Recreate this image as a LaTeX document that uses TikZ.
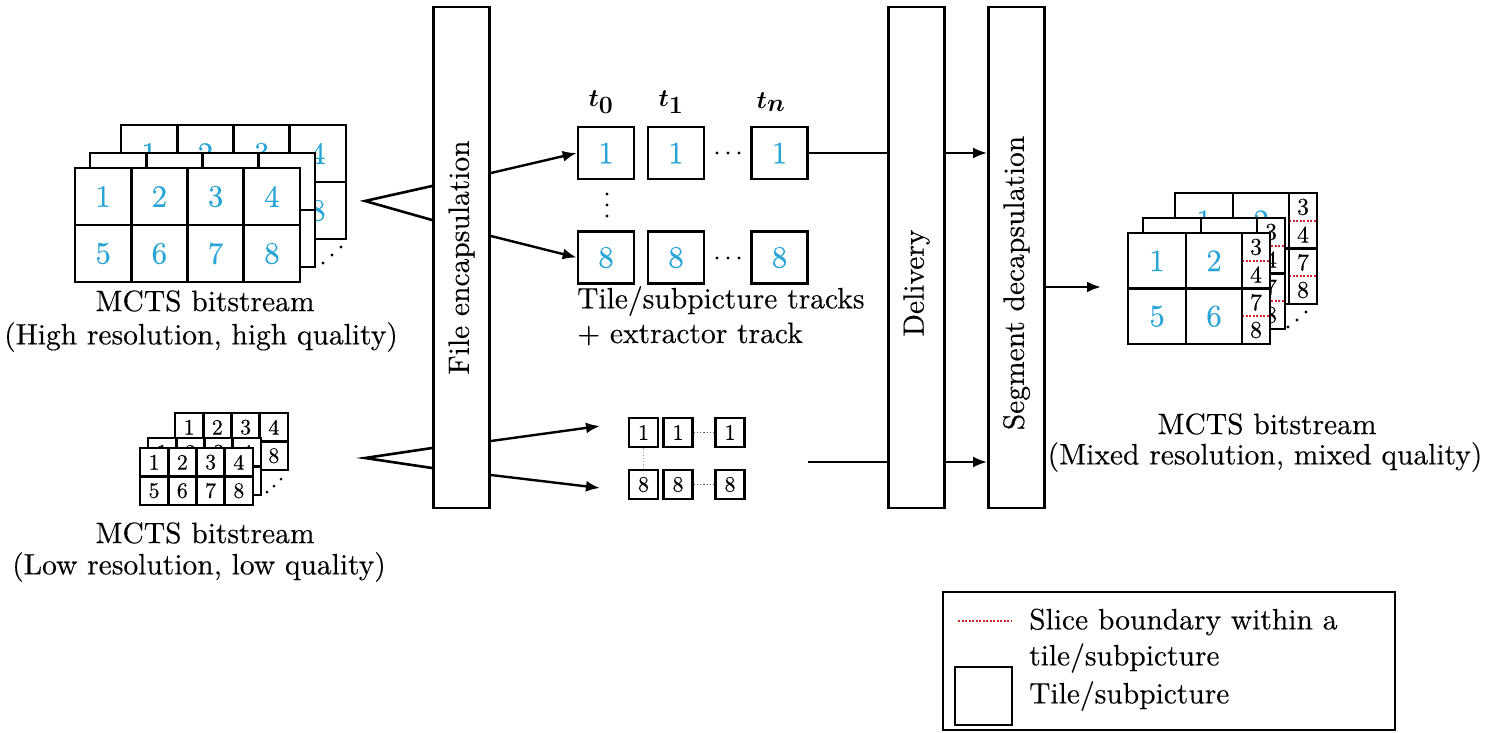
\documentclass[tikz,border=0pt]{standalone}
\usepackage{fontspec}
\setmainfont{lmroman10-regular.otf}[FakeBold=0.25]
\usetikzlibrary{arrows.meta}
\definecolor{numcyan}{RGB}{40,165,215}
\definecolor{slicered}{RGB}{215,35,45}
\tikzset{
  ln/.style={line width=2.6pt},
  hnum/.style={text=numcyan, font=\rmfamily\fontsize{31}{31}\selectfont, inner sep=0pt},
  lnum/.style={text=black, font=\rmfamily\fontsize{22}{22}\selectfont, inner sep=0pt},
  nnum/.style={text=black, font=\rmfamily\fontsize{24}{24}\selectfont, inner sep=0pt},
  lbl/.style={font=\rmfamily\fontsize{29.5}{35}\selectfont, inner sep=0pt},
  procbox/.style={draw, line width=2.8pt, fill=white, minimum width=56pt, minimum height=501pt, inner sep=0pt},
  tbox/.style={draw, line width=2.6pt, fill=white, minimum width=56pt, minimum height=52pt, text=numcyan, font=\rmfamily\fontsize{31}{31}\selectfont, inner sep=0pt},
  sbox/.style={draw, line width=2.6pt, fill=white, minimum width=29pt, minimum height=29pt, font=\rmfamily\fontsize{22}{22}\selectfont, inner sep=0pt},
  tlab/.style={font=\fontsize{36}{36}\selectfont\boldmath, inner sep=0pt},
  arr/.style={line width=2.4pt, -{Latex[length=14pt,width=11pt]}},
  slice/.style={draw=slicered, line width=2pt, dash pattern=on 2pt off 1.5pt},
}
\newcommand\HGrid[2]{%
  \begin{scope}[shift={(#1,#2)}]
    \fill[white] (0,0) rectangle (225,114);
    \foreach \c in {0,...,3}{\foreach \r in {0,1}{%
      \pgfmathtruncatemacro\k{\r*4+\c+1}%
      \node[hnum] at ({28.1+56.25*\c},{28.5+57*\r}) {\k};}}
    \draw[ln] (0,0) rectangle (225,114);
    \foreach \c in {1,2,3} \draw[ln] ({56.25*\c},0) -- ++(0,114);
    \draw[ln] (0,57) -- (225,57);
  \end{scope}}
\newcommand\LGrid[2]{%
  \begin{scope}[shift={(#1,#2)}]
    \fill[white] (0,0) rectangle (113,57);
    \foreach \c in {0,...,3}{\foreach \r in {0,1}{%
      \pgfmathtruncatemacro\k{\r*4+\c+1}%
      \node[lnum] at ({14.1+28.25*\c},{14.25+28.5*\r}) {\k};}}
    \draw[ln] (0,0) rectangle (113,57);
    \foreach \c in {1,2,3} \draw[ln] ({28.25*\c},0) -- ++(0,57);
    \draw[ln] (0,28.5) -- (113,28.5);
  \end{scope}}
\newcommand\MGrid[2]{%
  \begin{scope}[shift={(#1,#2)}]
    \fill[white] (0,0) rectangle (142,111);
    \node[hnum] at (29,27.75) {1};
    \node[hnum] at (86,27.75) {2};
    \node[hnum] at (29,83.25) {5};
    \node[hnum] at (86,83.25) {6};
    \node[nnum] at (128,14) {3};
    \node[nnum] at (128,41.5) {4};
    \node[nnum] at (128,69.5) {7};
    \node[nnum] at (128,97) {8};
    \draw[slice] (114,27.75) -- (142,27.75);
    \draw[slice] (114,83.25) -- (142,83.25);
    \draw[ln] (0,0) rectangle (142,111);
    \draw[ln] (58,0) -- (58,111);
    \draw[ln] (114,0) -- (114,111);
    \draw[ln] (0,55.5) -- (142,55.5);
  \end{scope}}
\begin{document}
\begin{tikzpicture}[x=1pt,y=-1pt]
\useasboundingbox (0,0) rectangle (1489,733);

% ---- high resolution stack
\HGrid{121}{125}
\HGrid{90}{153}
\HGrid{75}{168}
\foreach \p in {(323,263),(332,255),(341,247)} \fill \p circle (1.7);
\node[lbl] (hlab1) at (205,301) {MCTS bitstream};
\node[lbl] (hlab2) at (201,337) {(High resolution, high quality)};

% ---- low resolution stack
\LGrid{175}{413}
\LGrid{148}{438}
\LGrid{140}{448}
\foreach \p in {(267,492),(274,486),(281,479)} \fill \p circle (1.5);
\node[lbl] (llab1) at (205,533) {MCTS bitstream};
\node[lbl] (llab2) at (199,567) {(Low resolution, low quality)};

% ---- process boxes
\node[procbox] (fe) at (461.5,257.5) {};
\node[lbl, rotate=90] at (fe.center) {File encapsulation};
\node[procbox] (dl) at (916.5,257.5) {};
\node[lbl, rotate=90] at (916.5,283) {Delivery};
\node[procbox] (sd) at (1016.5,257.5) {};
\node[lbl, rotate=90] at (1016.5,283) {Segment decapsulation};

% ---- inputs to file encapsulation
\coordinate (hA) at (365,201);
\coordinate (hU) at (fe.west |- 0,186);
\coordinate (hL) at (fe.west |- 0,220);
\draw[ln] (hU) -- (hA) -- (hL);
\coordinate (lA) at (365,458);
\coordinate (lU) at (fe.west |- 0,448);
\coordinate (lL) at (fe.west |- 0,468);
\draw[ln] (lU) -- (lA) -- (lL);

% ---- high quality tracks
\node[tbox] (a1) at (606,153) {1};
\node[tbox] (a2) at (676,153) {1};
\node[tbox] (an) at (779.5,153) {1};
\node[tbox] (b1) at (606,257.5) {8};
\node[tbox] (b2) at (676,257.5) {8};
\node[tbox] (bn) at (779.5,257.5) {8};
\node[tlab] at (601,102) {$t_0$};
\node[tlab] at (671,102) {$t_1$};
\node[tlab] at (771,102) {$t_n$};
\foreach \x in {717,728,739} {\fill (\x,153) circle (1.6); \fill (\x,258) circle (1.6);}
\foreach \y in {194,205,216} \fill (607,\y) circle (1.6);
\node[lbl, anchor=west] at (577,301) {Tile/subpicture tracks};
\node[lbl, anchor=west] at (577,334) {+ extractor track};

% ---- low quality tracks
\node[sbox] (c1) at (643.5,432.5) {1};
\node[sbox] (c2) at (678,432.5) {1};
\node[sbox] (cn) at (730,432.5) {1};
\node[sbox] (d1) at (643.5,484.5) {8};
\node[sbox] (d2) at (678,484.5) {8};
\node[sbox] (dn) at (730,484.5) {8};
\draw[line width=1.2pt, dotted, gray!70!black] (c2.east) -- (cn.west);
\draw[line width=1.2pt, dotted, gray!70!black] (d2.east) -- (dn.west);
\draw[line width=1.2pt, dotted, gray!70] (c1.south) -- (d1.north);

% ---- arrows out of file encapsulation
\coordinate (f1) at (fe.east |- 0,173);
\coordinate (f2) at (fe.east |- 0,236);
\coordinate (f3) at (fe.east |- 0,441);
\coordinate (f4) at (fe.east |- 0,475);
\coordinate (g3) at (600,426);
\coordinate (g4) at (600,488);
\draw[arr] (f1) -- (a1.west);
\draw[arr] (f2) -- (b1.west);
\draw[arr] (f3) -- (g3);
\draw[arr] (f4) -- (g4);

% ---- delivery and decapsulation
\draw[ln] (an.east) -- (dl.west |- an.east);
\draw[arr] (dl.east |- an.east) -- (sd.west |- an.east);
\coordinate (lo) at (808,462);
\draw[ln] (lo) -- (dl.west |- lo);
\draw[arr] (dl.east |- lo) -- (sd.west |- lo);
\coordinate (mo) at (1101,287);
\draw[arr] (sd.east |- mo) -- (mo);

% ---- mixed output stack
\MGrid{1175}{193}
\MGrid{1143}{218}
\MGrid{1128}{233}
\foreach \p in {(1288,327),(1297,320),(1306,312)} \fill \p circle (1.6);
\node[lbl] (mlab1) at (1267,424) {MCTS bitstream};
\node[lbl] (mlab2) at (1265,457) {(Mixed resolution, mixed quality)};

% ---- legend
\node[draw, line width=2.6pt, minimum width=452pt, minimum height=138pt, inner sep=0pt] (lg) at (1169,661) {};
\draw[slice] (958,621) -- (1012,621);
\draw[ln] (955,667) rectangle (1012,725);
\node[lbl, anchor=west] at (1029,622) {Slice boundary within a};
\node[lbl, anchor=west] at (1029,658) {tile/subpicture};
\node[lbl, anchor=west] at (1029,696) {Tile/subpicture};
\end{tikzpicture}
\end{document}
